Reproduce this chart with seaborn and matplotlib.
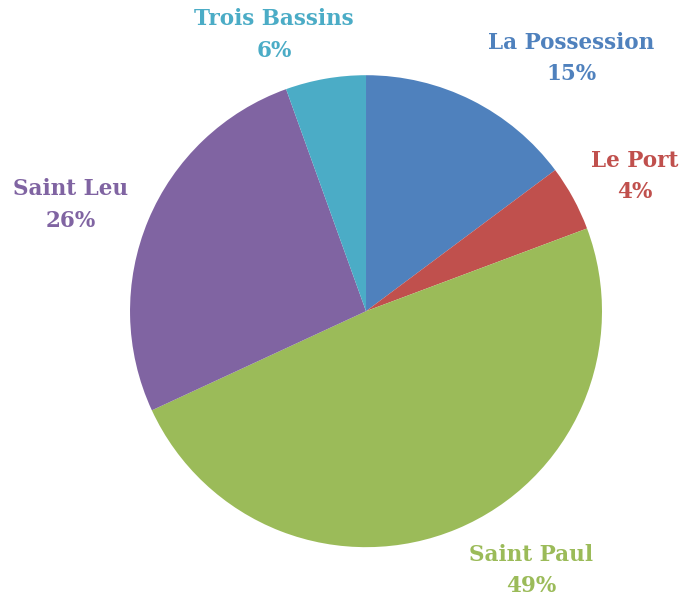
import matplotlib
matplotlib.use("Agg")
import matplotlib.pyplot as plt
import seaborn as sns

# --- Data ---
communes = ["La Possession", "Le Port", "Saint Paul", "Saint Leu", "Trois Bassins"]
shares = [14.8, 4.5, 48.8, 26.4, 5.5]   # wedge sizes
pct_labels = [15, 4, 49, 26, 6]          # percentages printed on the chart
colors = ["#4F81BD", "#C0504D", "#9BBB59", "#8064A2", "#4BACC6"]

# label centres, in pie-radius units
label_pos = [(0.87, 1.07), (1.14, 0.57), (0.70, -1.10), (-1.25, 0.45), (-0.39, 1.17)]

# --- Styling ---
sns.set_theme(style="white")
plt.rcParams["font.family"] = ["DejaVu Serif"]

fig = plt.figure(figsize=(6.88, 6.06), dpi=100)
ax = fig.add_axes([0.189, 0.097, 0.686, 0.779])

ax.pie(
    shares,
    colors=colors,
    startangle=90,
    counterclock=False,
    radius=1,
    wedgeprops={"linewidth": 0},
)

for name, val, col, (x, y) in zip(communes, pct_labels, colors, label_pos):
    ax.text(
        x, y, f"{name}\n{val}%",
        ha="center", va="center", color=col,
        fontsize=15.5, fontweight="bold", linespacing=1.55,
    )

ax.set_xlim(-1, 1)
ax.set_ylim(-1, 1)
ax.set_aspect("equal")
ax.axis("off")

plt.savefig("out.png", dpi=100)
